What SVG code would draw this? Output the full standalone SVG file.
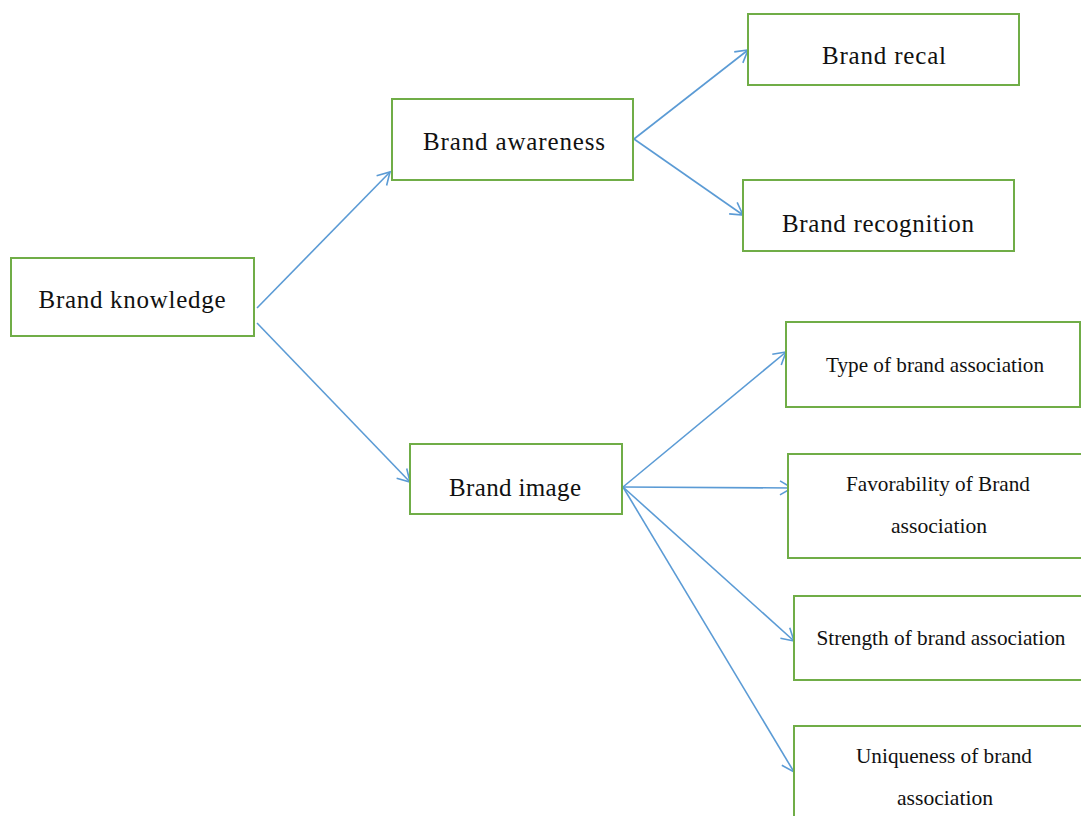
<svg xmlns="http://www.w3.org/2000/svg" width="1081" height="816" viewBox="0 0 1081 816">
<style>
.box{fill:#fff;stroke:#70AD47;stroke-width:2}
.big{font-family:"Liberation Serif","Times New Roman",serif;font-size:25px;fill:#111;text-anchor:middle}
.sm{font-family:"Liberation Serif","Times New Roman",serif;font-size:22px;fill:#111;text-anchor:middle}
.con{stroke:#5B9BD5;stroke-width:1.6;fill:none;marker-end:url(#arr)}
</style>
<defs>
<marker id="arr" markerUnits="userSpaceOnUse" markerWidth="16" markerHeight="16" refX="14" refY="8" orient="auto" viewBox="0 0 16 16">
<path d="M2,1 L14,8 L2,15" fill="none" stroke="#5B9BD5" stroke-width="1.6"/>
</marker>
</defs>
<rect width="1081" height="816" fill="#fff"/>
<g id="connectors">
<line class="con" x1="257" y1="308" x2="390" y2="172"/>
<line class="con" x1="257" y1="323" x2="410" y2="482"/>
<line class="con" x1="634" y1="139" x2="748" y2="50"/>
<line class="con" x1="634" y1="139" x2="743" y2="215"/>
<line class="con" x1="623" y1="487" x2="786" y2="352"/>
<line class="con" x1="623" y1="487" x2="792" y2="488"/>
<line class="con" x1="623" y1="487" x2="794" y2="641"/>
<line class="con" x1="623" y1="487" x2="794" y2="772"/>
</g>
<g id="brand-knowledge"><rect class="box" x="11" y="258" width="243" height="78"/><text class="big" x="132" y="308" textLength="187" lengthAdjust="spacing">Brand knowledge</text></g>
<g id="brand-awareness"><rect class="box" x="392" y="99" width="241" height="81"/><text class="big" x="514" y="150" textLength="182" lengthAdjust="spacing">Brand awareness</text></g>
<g id="brand-recal"><rect class="box" x="748" y="14" width="271" height="71"/><text class="big" x="884" y="64" textLength="124" lengthAdjust="spacing">Brand recal</text></g>
<g id="brand-recognition"><rect class="box" x="743" y="180" width="271" height="71"/><text class="big" x="878" y="232" textLength="192" lengthAdjust="spacing">Brand recognition</text></g>
<g id="brand-image"><rect class="box" x="410" y="444" width="212" height="70"/><text class="big" x="515" y="496" textLength="132" lengthAdjust="spacing">Brand image</text></g>
<g id="type"><rect class="box" x="786" y="322" width="294" height="85"/><text class="sm" x="935" y="372" textLength="218" lengthAdjust="spacingAndGlyphs">Type of brand association</text></g>
<g id="favorability"><rect class="box" x="788" y="454" width="300" height="104"/><text class="sm" x="938" y="491" textLength="184" lengthAdjust="spacingAndGlyphs">Favorability of Brand</text><text class="sm" x="939" y="533" textLength="96" lengthAdjust="spacingAndGlyphs">association</text></g>
<g id="strength"><rect class="box" x="794" y="596" width="300" height="84"/><text class="sm" x="941" y="645" textLength="249" lengthAdjust="spacingAndGlyphs">Strength of brand association</text></g>
<g id="uniqueness"><rect class="box" x="794" y="726" width="300" height="100"/><text class="sm" x="944" y="763" textLength="176" lengthAdjust="spacingAndGlyphs">Uniqueness of brand</text><text class="sm" x="945" y="805" textLength="96" lengthAdjust="spacingAndGlyphs">association</text></g>
</svg>
